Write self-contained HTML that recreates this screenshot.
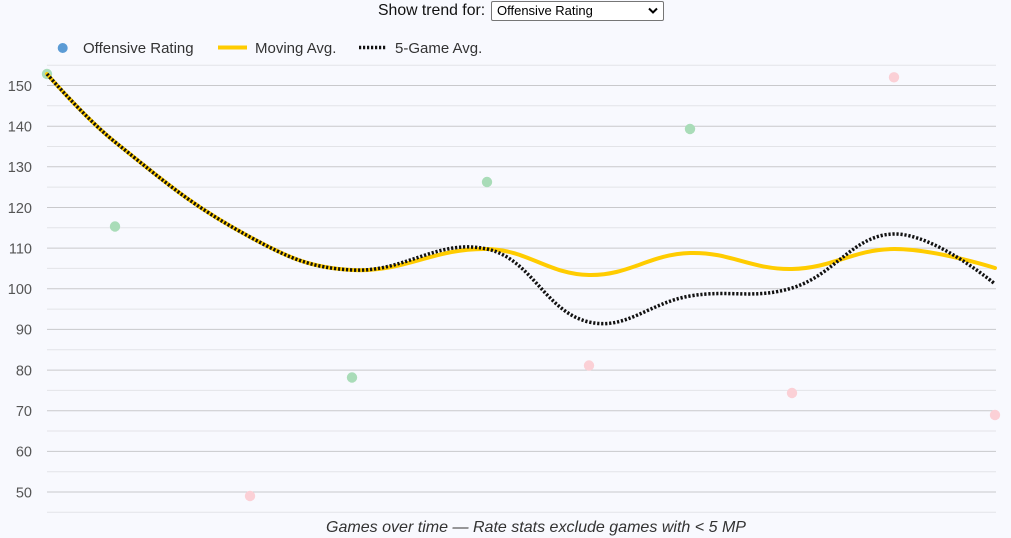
<!DOCTYPE html>
<html><head><meta charset="utf-8"><style>
html,body{margin:0;padding:0;background:#f8f9fe;}
body{width:1011px;height:538px;overflow:hidden;position:relative;font-family:"Liberation Sans",Arial,sans-serif;}
.hdr{position:absolute;left:378px;top:2px;font-size:15.8px;color:#111;}
.sel{position:absolute;left:491px;top:1px;width:171px;height:18px;border:1px solid #767676;border-radius:2px;background:#fff;font-size:13px;color:#000;line-height:18px;box-sizing:content-box;}
.sel span{position:absolute;left:5px;top:0;}
.sel svg{position:absolute;right:5px;top:5px;}
svg.c{position:absolute;left:0;top:0;}
</style></head><body>
<div class="hdr">Show trend for:</div>
<div class="sel"><span>Offensive Rating</span><svg width="10" height="8" viewBox="0 0 10 8"><path d="M1 1.5 L5 5.5 L9 1.5" fill="none" stroke="#000" stroke-width="2"/></svg></div>
<svg class="c" width="1011" height="538" viewBox="0 0 1011 538">
<g stroke-width="1">
<line x1="47" x2="996" y1="65.2" y2="65.2" stroke="#e3e4e8"/>
<line x1="47" x2="996" y1="85.5" y2="85.5" stroke="#c9c9cc"/>
<line x1="47" x2="996" y1="105.8" y2="105.8" stroke="#e3e4e8"/>
<line x1="47" x2="996" y1="126.2" y2="126.2" stroke="#c9c9cc"/>
<line x1="47" x2="996" y1="146.5" y2="146.5" stroke="#e3e4e8"/>
<line x1="47" x2="996" y1="166.8" y2="166.8" stroke="#c9c9cc"/>
<line x1="47" x2="996" y1="187.1" y2="187.1" stroke="#e3e4e8"/>
<line x1="47" x2="996" y1="207.5" y2="207.5" stroke="#c9c9cc"/>
<line x1="47" x2="996" y1="227.8" y2="227.8" stroke="#e3e4e8"/>
<line x1="47" x2="996" y1="248.1" y2="248.1" stroke="#c9c9cc"/>
<line x1="47" x2="996" y1="268.4" y2="268.4" stroke="#e3e4e8"/>
<line x1="47" x2="996" y1="288.8" y2="288.8" stroke="#c9c9cc"/>
<line x1="47" x2="996" y1="309.1" y2="309.1" stroke="#e3e4e8"/>
<line x1="47" x2="996" y1="329.4" y2="329.4" stroke="#c9c9cc"/>
<line x1="47" x2="996" y1="349.7" y2="349.7" stroke="#e3e4e8"/>
<line x1="47" x2="996" y1="370.1" y2="370.1" stroke="#c9c9cc"/>
<line x1="47" x2="996" y1="390.4" y2="390.4" stroke="#e3e4e8"/>
<line x1="47" x2="996" y1="410.7" y2="410.7" stroke="#c9c9cc"/>
<line x1="47" x2="996" y1="431.0" y2="431.0" stroke="#e3e4e8"/>
<line x1="47" x2="996" y1="451.4" y2="451.4" stroke="#c9c9cc"/>
<line x1="47" x2="996" y1="471.7" y2="471.7" stroke="#e3e4e8"/>
<line x1="47" x2="996" y1="492.0" y2="492.0" stroke="#c9c9cc"/>
<line x1="47" x2="996" y1="512.3" y2="512.3" stroke="#e3e4e8"/>
</g>
<g font-family="Liberation Sans, Arial, sans-serif" font-size="14.5" fill="#555" text-anchor="end">
<text x="32" y="91">150</text>
<text x="32" y="131.5">140</text>
<text x="32" y="172">130</text>
<text x="32" y="213">120</text>
<text x="32" y="253.5">110</text>
<text x="32" y="294">100</text>
<text x="32" y="334.5">90</text>
<text x="32" y="375.5">80</text>
<text x="32" y="416">70</text>
<text x="32" y="456.5">60</text>
<text x="32" y="497.5">50</text>
</g>
<g>
<circle cx="47" cy="74" r="5.2" fill="#a9dcb8"/>
<circle cx="115" cy="226.5" r="5.2" fill="#a9dcb8"/>
<circle cx="250" cy="496" r="5.2" fill="#fbd0d6"/>
<circle cx="352" cy="377.5" r="5.2" fill="#a9dcb8"/>
<circle cx="487" cy="182" r="5.2" fill="#a9dcb8"/>
<circle cx="589" cy="365.5" r="5.2" fill="#fbd0d6"/>
<circle cx="690" cy="129" r="5.2" fill="#a9dcb8"/>
<circle cx="792" cy="393" r="5.2" fill="#fbd0d6"/>
<circle cx="894" cy="77.3" r="5.2" fill="#fbd0d6"/>
<circle cx="995" cy="415" r="5.2" fill="#fbd0d6"/>
</g>
<path fill="none" stroke="#ffcc00" stroke-width="4" stroke-linecap="round" d="M47 74 C47 74 85.1 118 115 142 C166.3 183.2 192.5 206 250 237 C287.3 257.2 310.3 267.9 352 270 C405.1 272.7 433.4 247.9 487 249 C528.2 249.9 548 274.2 589 275 C629.2 275.8 649.4 254.2 690 253 C730.6 251.8 751.2 269.8 792 269 C832.8 268.2 853.4 249.2 894 249 C934.6 248.8 995 268 995 268"/>
<path fill="none" stroke="#111" stroke-width="3.5" stroke-dasharray="2.2 1.8" d="M47 74 C47 74 85.1 118 115 142 C166.3 183.2 192.5 206 250 237 C287.3 257.2 310.3 267.9 352 270 C405.1 272.7 437.6 238.2 487 249 C532.4 259 544.7 311.7 589 322 C625.9 330.6 649 302.9 690 296 C730.2 289.3 753.6 299.7 792 288 C835.2 274.9 853 234.8 894 234 C934.2 233.2 995 284 995 284"/>
<circle cx="62.7" cy="48" r="5" fill="#5b9bd5"/>
<text x="83" y="53" font-family="Liberation Sans, Arial, sans-serif" font-size="15" fill="#333">Offensive Rating</text>
<line x1="218" x2="247" y1="47.5" y2="47.5" stroke="#ffcc00" stroke-width="4"/>
<text x="255" y="53" font-family="Liberation Sans, Arial, sans-serif" font-size="15" fill="#333">Moving Avg.</text>
<line x1="359" x2="387" y1="47.5" y2="47.5" stroke="#111" stroke-width="3.5" stroke-dasharray="2.2 1.8"/>
<text x="395" y="53" font-family="Liberation Sans, Arial, sans-serif" font-size="15" fill="#333">5-Game Avg.</text>
<text x="536" y="532" text-anchor="middle" font-family="Liberation Sans, Arial, sans-serif" font-size="16" font-style="italic" fill="#333" textLength="420" lengthAdjust="spacingAndGlyphs">Games over time — Rate stats exclude games with &lt; 5 MP</text>
</svg>
</body></html>
